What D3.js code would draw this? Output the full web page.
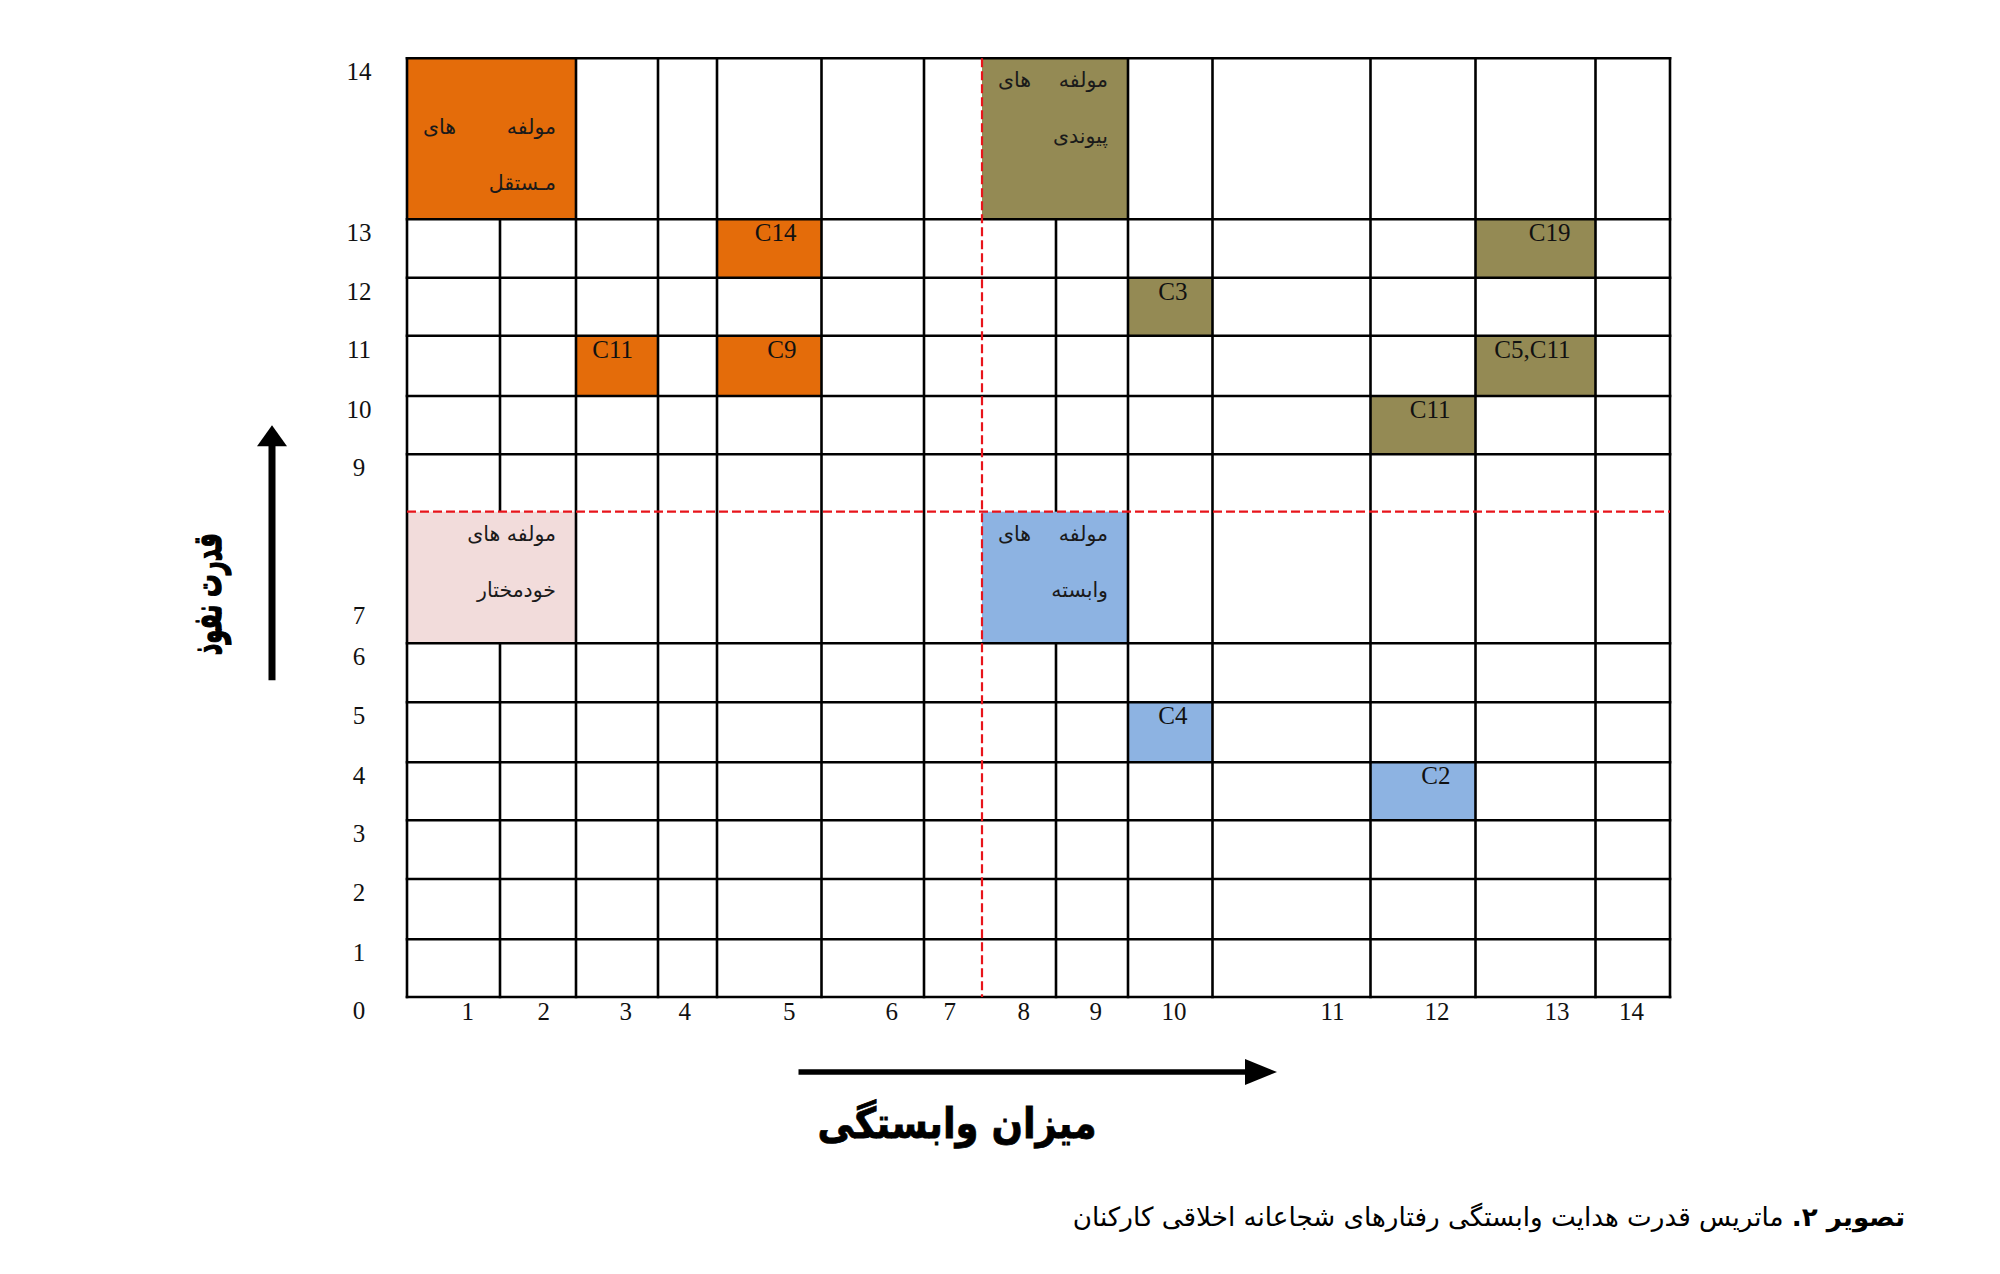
<!DOCTYPE html>
<html>
<head>
<meta charset="utf-8">
<script src="https://cdn.jsdelivr.net/npm/d3@7/dist/d3.min.js"></script>
<style>
  html, body { margin: 0; padding: 0; background: #ffffff; }
  svg { display: block; }
</style>
</head>
<body>
<svg id="chart" width="2000" height="1274"></svg>
<script>
// ---------------- DATA ----------------
const xTickLabels = [1, 2, 3, 4, 5, 6, 7, 8, 9, 10, 11, 12, 13, 14];
const yTickLabels = [14, 13, 12, 11, 10, 9, 7, 6, 5, 4, 3, 2, 1, 0];

// factor cells: column (dependence) and row (driving power)
const cellLabels = ["C14", "C11", "C9", "C19", "C3", "C5,C11", "C11", "C4", "C2"];
const cellCols   = [5, 3, 5, 13, 10, 13, 12, 10, 12];
const cellRows   = [13, 11, 11, 13, 12, 11, 10, 5, 4];
const cellGroups = ["independent", "independent", "independent",
                    "linkage", "linkage", "linkage", "linkage",
                    "dependent", "dependent"];

// quadrant (cluster) blocks
const regionKeys  = ["independent", "linkage", "autonomous", "dependent"];
const regionCols  = [[0, 2], [7, 9], [0, 2], [7, 9]];
const regionRows  = [[13, 14], [13, 14], [6, 8], [6, 8]];
const regionLine1 = [["مولفه", "های"], ["مولفه", "های"], ["مولفه های"], ["مولفه", "های"]];
const regionLine2 = ["مـستقل", "پیوندی", "خودمختار", "وابسته"];

const groupColors = {
  independent: "#E46C0A",
  linkage: "#948A54",
  autonomous: "#F2DCDB",
  dependent: "#8DB3E2"
};

// dividing (mean) lines of the MICMAC matrix
const splitCol = 7;
const splitRow = 8;

const xTitle = "میزان وابستگی";
const yTitle = "قدرت نفوذ";
const captionBold = "تصویر ۲.";
const captionRest = " ماتریس قدرت هدایت وابستگی رفتارهای شجاعانه اخلاقی کارکنان";

// ---------------- LAYOUT (table geometry of the original Word table) ----------------
const tableLeft = 407, tableTop = 58.3;
const colWidths = [93, 76, 82, 59, 104.5, 102.5, 58, 74, 72, 84.5, 158, 105, 120, 74.5];
const rowHeights = [57.7, 60.3, 58.7, 58, 60, 59, 41.3, 90.3, 57.4, 58.3, 60.3, 58, 58.4, 161]; // row 1 .. row 14
const hiddenRowLines = [7];

// ---------------- SCALES ----------------
const xBounds = [tableLeft];
colWidths.forEach(w => xBounds.push(xBounds[xBounds.length - 1] + w));
const totalH = d3.sum(rowHeights);
const yBounds = [tableTop + totalH];
rowHeights.forEach(h => yBounds.push(yBounds[yBounds.length - 1] - h));

const x = d3.scaleLinear().domain(d3.range(15)).range(xBounds);
const y = d3.scaleLinear().domain(d3.range(15)).range(yBounds);

const svg = d3.select("#chart");
svg.append("rect").attr("width", 2000).attr("height", 1274).attr("fill", "#fff");

const serif = "'Liberation Serif', 'Times New Roman', serif";
const arabic = "'DejaVu Sans', sans-serif";

// ---------------- FILLS ----------------
const regions = regionKeys.map((k, i) => ({
  key: k, c0: regionCols[i][0], c1: regionCols[i][1],
  r0: regionRows[i][0], r1: regionRows[i][1],
  line1: regionLine1[i], line2: regionLine2[i]
}));

svg.append("g").selectAll("rect").data(regions).join("rect")
  .attr("x", d => x(d.c0)).attr("y", d => y(d.r1))
  .attr("width", d => x(d.c1) - x(d.c0)).attr("height", d => y(d.r0) - y(d.r1))
  .attr("fill", d => groupColors[d.key]);

const cells = cellLabels.map((l, i) => ({ label: l, col: cellCols[i], row: cellRows[i], group: cellGroups[i] }));

svg.append("g").selectAll("rect").data(cells).join("rect")
  .attr("x", d => x(d.col - 1)).attr("y", d => y(d.row))
  .attr("width", d => x(d.col) - x(d.col - 1)).attr("height", d => y(d.row - 1) - y(d.row))
  .attr("fill", d => groupColors[d.group]);

// ---------------- GRID ----------------
const grid = svg.append("g").attr("stroke", "#000").attr("stroke-width", 2.6).attr("fill", "none");

const hLevels = d3.range(15).filter(k => k !== splitRow && !hiddenRowLines.includes(k));
grid.selectAll("line.h").data(hLevels).join("line").attr("class", "h")
  .attr("x1", x(0) - 1.3).attr("x2", x(14) + 1.3)
  .attr("y1", d => y(d)).attr("y2", d => y(d));

const vSegs = [];
d3.range(15).filter(k => k !== splitCol).forEach(k => {
  const gaps = regions.filter(r => r.c0 < k && k < r.c1).map(r => [r.r0, r.r1]).sort((a, b) => a[0] - b[0]);
  let start = 0;
  gaps.forEach(g => { if (g[0] > start) vSegs.push({ k, a: start, b: g[0] }); start = g[1]; });
  if (start < 14) vSegs.push({ k, a: start, b: 14 });
});
grid.selectAll("line.v").data(vSegs).join("line").attr("class", "v")
  .attr("x1", d => x(d.k)).attr("x2", d => x(d.k))
  .attr("y1", d => y(d.a) + (d.a === 0 ? 1.3 : 0)).attr("y2", d => y(d.b) - (d.b === 14 ? 1.3 : 0));

// red dashed split lines
const red = svg.append("g").attr("stroke", "#E8141B").attr("stroke-width", 2.2).attr("stroke-dasharray", "9,4");
red.append("line").attr("x1", x(splitCol)).attr("x2", x(splitCol)).attr("y1", y(14)).attr("y2", y(0));
red.append("line").attr("x1", x(0)).attr("x2", x(14)).attr("y1", y(splitRow)).attr("y2", y(splitRow));

// ---------------- TEXT ----------------
// cell labels
svg.append("g").selectAll("text").data(cells).join("text")
  .attr("x", d => x(d.col) - 25).attr("y", d => y(d.row) + 22)
  .attr("text-anchor", "end").attr("font-family", serif).attr("font-size", 25)
  .attr("fill", "#111").text(d => d.label);

// region labels
const regionTop = { independent: 69, linkage: 22, autonomous: 22, dependent: 22 };
const rg = svg.append("g").attr("font-family", arabic).attr("font-size", 20.5).attr("fill", "#1a1a1a");
regions.forEach(r => {
  const top = y(r.r1) + regionTop[r.key];
  const right = x(r.c1) - 20, left = x(r.c0) + 16;
  rg.append("text").attr("x", right).attr("y", top).attr("dy", "0.35em")
    .attr("text-anchor", "end").text(r.line1[0]);
  if (r.line1.length > 1) {
    rg.append("text").attr("x", left).attr("y", top).attr("dy", "0.35em")
      .attr("text-anchor", "start").text(r.line1[1]);
  }
  rg.append("text").attr("x", right).attr("y", top + 56).attr("dy", "0.35em")
    .attr("text-anchor", "end").text(r.line2);
});

// tick labels
svg.append("g").selectAll("text").data(xTickLabels).join("text")
  .attr("x", d => x(d) - 26).attr("y", y(0) + 23)
  .attr("text-anchor", "end").attr("font-family", serif).attr("font-size", 25).attr("fill", "#111")
  .text(d => d);

svg.append("g").selectAll("text").data(yTickLabels).join("text")
  .attr("x", x(0) - 48).attr("y", d => y(d) + 22)
  .attr("text-anchor", "middle").attr("font-family", serif).attr("font-size", 25).attr("fill", "#111")
  .text(d => d);

// ---------------- AXIS ARROWS & TITLES ----------------
function fit(sel, target) {
  const w = sel.node().getComputedTextLength();
  const fs = parseFloat(sel.attr("font-size"));
  if (w > 0) sel.attr("font-size", fs * target / w);
}

const arrows = svg.append("g").attr("fill", "#000");
// y arrow
const yAx = x(0) - 135;
arrows.append("line").attr("x1", yAx).attr("x2", yAx).attr("y1", y(5) - 22).attr("y2", y(9) - 10)
  .attr("stroke", "#000").attr("stroke-width", 7);
arrows.append("path").attr("d", d3.line()([[yAx, y(9) - 29], [yAx - 15, y(9) - 8], [yAx + 15, y(9) - 8]]) + "Z");
// x arrow
const xAy = y(0) + 75;
arrows.append("line").attr("x1", x(5) - 23).attr("x2", x(9) + 120).attr("y1", xAy).attr("y2", xAy)
  .attr("stroke", "#000").attr("stroke-width", 5.5);
arrows.append("path").attr("d", d3.line()([[x(9) + 149, xAy], [x(9) + 117, xAy - 13], [x(9) + 117, xAy + 13]]) + "Z");

// y title (heavy, stretched across the line like the original)
const ytG = svg.append("g").attr("transform", `translate(${x(0) - 198},${y(6) - 49}) rotate(-90) scale(1,1.75)`);
const yt = ytG.append("text")
  .attr("text-anchor", "middle").attr("dy", "0.3em")
  .attr("font-family", arabic).attr("font-weight", "bold").attr("font-size", 32).attr("fill", "#000")
  .attr("stroke", "#000").attr("stroke-width", 0.8)
  .text(yTitle);
fit(yt, 122);

const xtG = svg.append("g").attr("transform", `translate(957,${y(0) + 141}) scale(1,1.15)`);
const xt = xtG.append("text")
  .attr("text-anchor", "middle")
  .attr("font-family", arabic).attr("font-weight", "bold").attr("font-size", 36).attr("fill", "#000")
  .attr("stroke", "#000").attr("stroke-width", 0.7)
  .text(xTitle);
fit(xt, 279);

// caption
const cap = svg.append("text")
  .attr("x", 1905).attr("y", 1226)
  .attr("direction", "rtl").attr("text-anchor", "start")
  .attr("font-family", arabic).attr("font-size", 24).attr("fill", "#000");
cap.append("tspan").attr("font-weight", "bold").text(captionBold);
cap.append("tspan").text(captionRest);
fit(cap, 833);
</script>
</body>
</html>
